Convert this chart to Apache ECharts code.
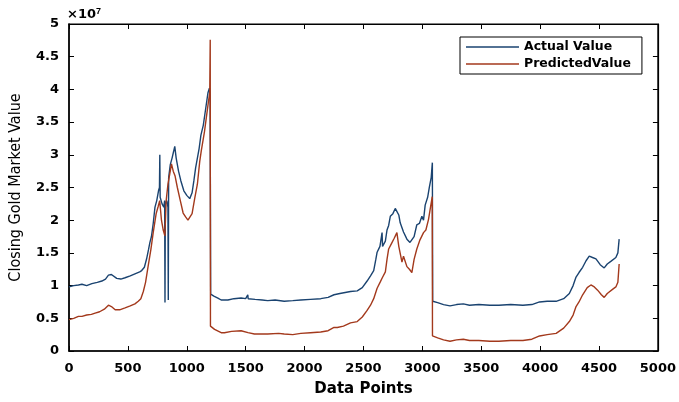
<!DOCTYPE html>
<html>
<head>
<meta charset="utf-8">
<script src="https://cdn.jsdelivr.net/npm/echarts@6/dist/echarts.min.js"></script>
<style>
  html, body { margin: 0; padding: 0; background: #fff; }
  #chart { width: 679px; height: 402px; }
</style>
</head>
<body>
<div id="chart"></div>
<script>
// values, y in units of 10^7
const xTicks = [0, 500, 1000, 1500, 2000, 2500, 3000, 3500, 4000, 4500, 5000];
const yTicks = [0, 0.5, 1, 1.5, 2, 2.5, 3, 3.5, 4, 4.5, 5];

const actualIdx = [0, 40, 80, 110, 150, 194, 240, 279, 310, 335, 360, 405, 440, 476, 520, 560, 600, 617, 640, 659, 675, 687, 700, 715, 730, 745, 760, 768, 771, 774, 790, 805, 812, 815, 818, 830, 840, 843, 846, 860, 875, 888, 898, 910, 930, 950, 975, 1000, 1025, 1045, 1060, 1075, 1090, 1105, 1120, 1140, 1160, 1180, 1192, 1198, 1203, 1230, 1264, 1292, 1349, 1400, 1461, 1500, 1515, 1518, 1521, 1580, 1640, 1687, 1750, 1827, 1900, 1968, 2050, 2137, 2200, 2250, 2300, 2390, 2447, 2490, 2531, 2560, 2587, 2605, 2616, 2640, 2650, 2658, 2662, 2686, 2700, 2714, 2728, 2750, 2770, 2784, 2800, 2812, 2840, 2869, 2895, 2911, 2930, 2953, 2975, 2996, 3010, 3024, 3045, 3060, 3075, 3085, 3088, 3130, 3180, 3235, 3290, 3348, 3400, 3480, 3573, 3650, 3750, 3854, 3930, 3995, 4060, 4136, 4200, 4248, 4280, 4305, 4330, 4361, 4390, 4417, 4445, 4474, 4510, 4544, 4570, 4600, 4643, 4660, 4671];
const actualVal = [0.98, 1.0, 1.01, 1.02, 1.0, 1.03, 1.05, 1.07, 1.1, 1.16, 1.17, 1.11, 1.1, 1.12, 1.15, 1.18, 1.21, 1.23, 1.28, 1.41, 1.55, 1.66, 1.75, 1.95, 2.2, 2.3, 2.45, 2.5, 3.0, 2.35, 2.25, 2.2, 2.3, 0.74, 2.25, 2.3, 2.2, 0.78, 2.65, 2.85, 2.95, 3.05, 3.13, 2.95, 2.75, 2.6, 2.45, 2.38, 2.33, 2.42, 2.6, 2.8, 2.78, 3.1, 3.3, 3.45, 3.7, 3.95, 4.02, 3.9, 0.87, 0.84, 0.81, 0.78, 0.78, 0.8, 0.81, 0.8, 0.8, 0.86, 0.8, 0.79, 0.78, 0.77, 0.78, 0.76, 0.77, 0.78, 0.79, 0.8, 0.82, 0.86, 0.88, 0.91, 0.92, 0.97, 1.07, 1.15, 1.23, 1.4, 1.51, 1.6, 1.62, 1.81, 1.6, 1.68, 1.85, 1.92, 2.06, 2.1, 2.18, 2.2, 2.08, 1.96, 1.82, 1.71, 1.66, 1.63, 1.75, 1.93, 1.95, 2.06, 2.0, 2.23, 2.35, 2.51, 2.65, 2.88, 0.76, 0.74, 0.71, 0.69, 0.71, 0.72, 0.7, 0.71, 0.7, 0.7, 0.71, 0.7, 0.71, 0.75, 0.76, 0.76, 0.8, 0.88, 1.0, 1.13, 1.2, 1.28, 1.38, 1.45, 1.43, 1.41, 1.32, 1.27, 1.33, 1.37, 1.43, 1.5, 1.71];

const predictedIdx = [0, 40, 80, 110, 150, 190, 222, 260, 300, 335, 360, 392, 430, 476, 520, 560, 588, 610, 631, 650, 673, 695, 715, 740, 757, 770, 785, 800, 814, 825, 840, 855, 870, 885, 900, 920, 945, 969, 990, 1010, 1025, 1045, 1067, 1090, 1110, 1123, 1150, 1180, 1195, 1199, 1201, 1236, 1292, 1320, 1380, 1461, 1520, 1574, 1687, 1780, 1827, 1900, 1968, 2050, 2137, 2200, 2250, 2278, 2330, 2390, 2447, 2490, 2531, 2560, 2587, 2616, 2644, 2660, 2686, 2700, 2714, 2740, 2760, 2784, 2800, 2827, 2840, 2869, 2890, 2911, 2930, 2953, 2980, 3010, 3030, 3052, 3065, 3084, 3086, 3130, 3180, 3235, 3290, 3348, 3400, 3480, 3573, 3650, 3750, 3854, 3930, 3995, 4060, 4136, 4200, 4248, 4280, 4305, 4330, 4361, 4400, 4431, 4460, 4488, 4520, 4544, 4570, 4586, 4620, 4643, 4660, 4671];
const predictedVal = [0.48, 0.5, 0.53, 0.53, 0.55, 0.56, 0.58, 0.6, 0.64, 0.7, 0.68, 0.63, 0.63, 0.66, 0.69, 0.72, 0.76, 0.8, 0.91, 1.05, 1.31, 1.55, 1.81, 2.1, 2.21, 2.3, 2.0, 1.85, 1.76, 2.3, 2.55, 2.7, 2.86, 2.75, 2.68, 2.5, 2.3, 2.11, 2.05, 2.0, 1.98, 2.1, 2.33, 2.55, 2.9, 3.06, 3.35, 3.76, 3.95, 4.76, 0.38, 0.33, 0.28, 0.28, 0.3, 0.31, 0.28, 0.26, 0.26, 0.27, 0.26, 0.25, 0.27, 0.28, 0.29, 0.31, 0.36, 0.36, 0.38, 0.43, 0.45, 0.52, 0.62, 0.7, 0.8, 0.96, 1.06, 1.12, 1.21, 1.4, 1.56, 1.65, 1.72, 1.81, 1.6, 1.36, 1.45, 1.29, 1.25, 1.2, 1.4, 1.56, 1.7, 1.81, 1.85, 2.01, 2.15, 2.36, 0.23, 0.2, 0.17, 0.15, 0.17, 0.18, 0.16, 0.16, 0.15, 0.15, 0.16, 0.16, 0.18, 0.23, 0.25, 0.27, 0.35, 0.45, 0.55, 0.68, 0.75, 0.86, 0.97, 1.01, 0.98, 0.93, 0.86, 0.82, 0.88, 0.91, 0.95, 0.98, 1.05, 1.33];

const pairs = (xs, ys) => xs.map((x, i) => [x, ys[i]]);

const chart = echarts.init(document.getElementById('chart'));

const boldFont = "'DejaVu Sans', Verdana, sans-serif";

const tickFont = {
  color: '#000',
  fontSize: 13,
  fontWeight: 'bold',
  fontFamily: boldFont,
  formatter: v => String(v)
};

// top and right axes only give the box its inner ticks
const boxAxis = {
  type: 'value',
  axisLine: { show: true, onZero: false, lineStyle: { color: '#000', width: 1.2 } },
  axisTick: { show: true, inside: true, length: 5, lineStyle: { color: '#000' } },
  axisLabel: { show: false },
  splitLine: { show: false }
};

const option = {
  animation: false,
  backgroundColor: '#fff',
  grid: {
    left: 67, right: 20, top: 24, bottom: 45,
    show: true, borderColor: '#000', borderWidth: 1.2, backgroundColor: 'transparent'
  },
  legend: {
    orient: 'vertical',
    left: 460,
    top: 37,
    padding: [3, 11, 3, 6],
    itemGap: 3,
    itemWidth: 53,
    itemHeight: 1.5,
    icon: 'rect',
    borderColor: '#000',
    borderWidth: 1,
    backgroundColor: '#fff',
    textStyle: {
      color: '#000',
      fontSize: 12.5,
      fontWeight: 'bold',
      lineHeight: 14,
      fontFamily: boldFont
    },
    data: ['Actual Value', 'PredictedValue']
  },
  graphic: [{
    type: 'text',
    left: 67,
    top: 7,
    style: {
      text: '×10{s|7}',
      fill: '#000',
      font: "bold 13px 'DejaVu Sans', Verdana, sans-serif",
      rich: { s: { fontSize: 9, fontWeight: 'bold', verticalAlign: 'top', padding: [0, 0, 7, 0] } }
    }
  }],
  xAxis: [{
    type: 'value',
    position: 'bottom',
    min: xTicks[0],
    max: xTicks[xTicks.length - 1],
    interval: 500,
    name: 'Data Points',
    nameLocation: 'middle',
    nameGap: 31,
    nameTextStyle: {
      color: '#000',
      fontSize: 15,
      fontWeight: 'bold',
      fontFamily: boldFont
    },
    axisLine: { show: true, onZero: false, lineStyle: { color: '#000', width: 1.5 } },
    axisTick: { show: true, inside: true, length: 5, lineStyle: { color: '#000' } },
    axisLabel: Object.assign({ margin: 11 }, tickFont),
    splitLine: { show: false }
  }, Object.assign({
    position: 'top',
    min: xTicks[0],
    max: xTicks[xTicks.length - 1],
    interval: 500
  }, boxAxis)],
  yAxis: [{
    type: 'value',
    position: 'left',
    min: yTicks[0],
    max: yTicks[yTicks.length - 1],
    interval: 0.5,
    name: 'Closing Gold Market Value',
    nameLocation: 'middle',
    nameGap: 45,
    nameTextStyle: {
      color: '#000',
      fontSize: 16,
      fontFamily: "'Liberation Sans Narrow', 'DejaVu Sans Condensed', sans-serif"
    },
    axisLine: { show: true, onZero: false, lineStyle: { color: '#000', width: 1.5 } },
    axisTick: { show: true, inside: true, length: 5, lineStyle: { color: '#000' } },
    axisLabel: Object.assign({ margin: 10 }, tickFont),
    splitLine: { show: false }
  }, Object.assign({
    position: 'right',
    min: yTicks[0],
    max: yTicks[yTicks.length - 1],
    interval: 0.5
  }, boxAxis)],
  series: [{
    name: 'Actual Value',
    type: 'line',
    symbol: 'none',
    color: '#1a4370',
    lineStyle: { width: 1.4 },
    data: pairs(actualIdx, actualVal)
  }, {
    name: 'PredictedValue',
    type: 'line',
    xAxisIndex: 1,
    yAxisIndex: 1,
    symbol: 'none',
    color: '#a3391c',
    lineStyle: { width: 1.4 },
    data: pairs(predictedIdx, predictedVal)
  }]
};

chart.setOption(option);
</script>
</body>
</html>
